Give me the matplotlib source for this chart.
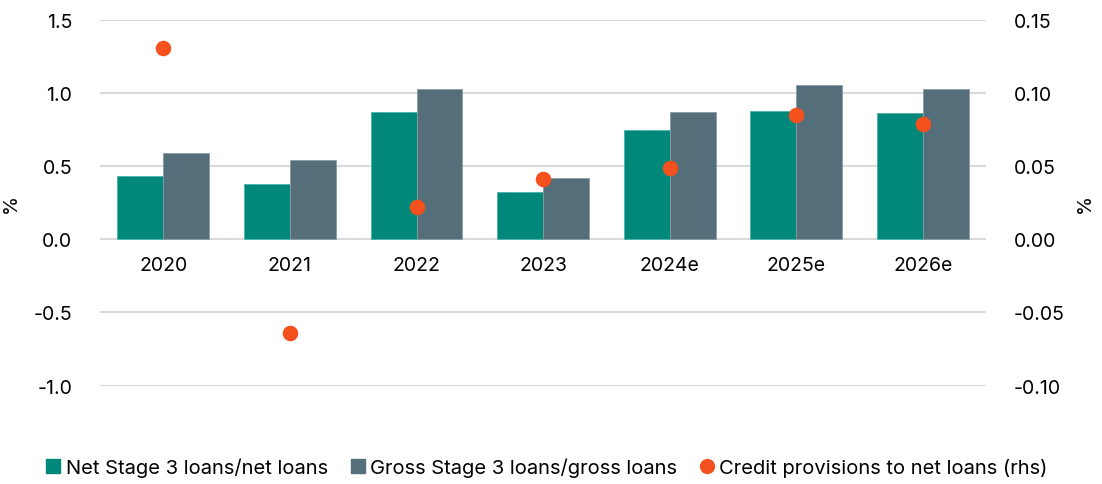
import numpy as np
import matplotlib.pyplot as plt
from matplotlib.lines import Line2D
from matplotlib.ticker import FormatStrFormatter

plt.rcParams.update({'font.size': 14, 'font.family': ['Inter', 'DejaVu Sans'],
                     'axes.unicode_minus': False})

years = ['2020', '2021', '2022', '2023', '2024e', '2025e', '2026e']
net_stage3 = [0.43, 0.38, 0.87, 0.32, 0.75, 0.88, 0.86]
gross_stage3 = [0.59, 0.54, 1.025, 0.42, 0.87, 1.055, 1.03]
provisions = [0.131, -0.064, 0.022, 0.041, 0.049, 0.085, 0.079]

teal = '#00897B'
slate = '#546E7A'
orange = '#F4511E'
grid_col = '#D9D9D9'

fig = plt.figure(figsize=(11.02, 4.85), dpi=100)
ax = fig.add_axes([0.0907, 0.203, 0.8043, 0.754])
x = np.arange(len(years))
w = 0.363

ax.bar(x - w/2, net_stage3, w, color=teal, edgecolor='#4fb3a8', linewidth=0.6, zorder=2)
ax.bar(x + w/2, gross_stage3, w, color=slate, edgecolor='#8a9ba3', linewidth=0.6, zorder=2)

ax.set_xlim(-0.5, 6.5)
ax.set_ylim(-1.0, 1.5)
ax.set_yticks(np.arange(-1.0, 1.51, 0.5))
ax.yaxis.set_major_formatter(FormatStrFormatter('%.1f'))
ax.yaxis.grid(True, color=grid_col, linewidth=1.5)
ax.set_axisbelow(True)
ax.set_xticks(x)
ax.set_xticklabels(years)
ax.spines['bottom'].set_position(('data', 0))
for s in ax.spines.values():
    s.set_visible(False)
ax.tick_params(axis='x', length=0, pad=12)
ax.tick_params(axis='y', length=0, pad=20)
ax.set_ylabel('%', labelpad=10)

ax2 = ax.twinx()
ax2.scatter(x, provisions, s=125, color=orange, zorder=3, linewidths=0)
ax2.set_ylim(-0.10, 0.15)
ax2.set_yticks(np.arange(-0.10, 0.151, 0.05))
ax2.yaxis.set_major_formatter(FormatStrFormatter('%.2f'))
for s in ax2.spines.values():
    s.set_visible(False)
ax2.tick_params(axis='y', length=0, pad=20)
ax2.set_ylabel('%', labelpad=8)

handles = [Line2D([], [], marker='s', linestyle='none', color=teal, markersize=10),
           Line2D([], [], marker='s', linestyle='none', color=slate, markersize=10),
           Line2D([], [], marker='o', linestyle='none', color=orange, markersize=10)]
labels = ['Net Stage 3 loans/net loans', 'Gross Stage 3 loans/gross loans',
          'Credit provisions to net loans (rhs)']
fig.legend(handles, labels, loc='center', bbox_to_anchor=(0.495, 0.035), ncol=3,
           frameon=False, handletextpad=0.1, columnspacing=1.0, handlelength=1.0,
           fontsize=14.5)

fig.savefig('out.png', dpi=100)
